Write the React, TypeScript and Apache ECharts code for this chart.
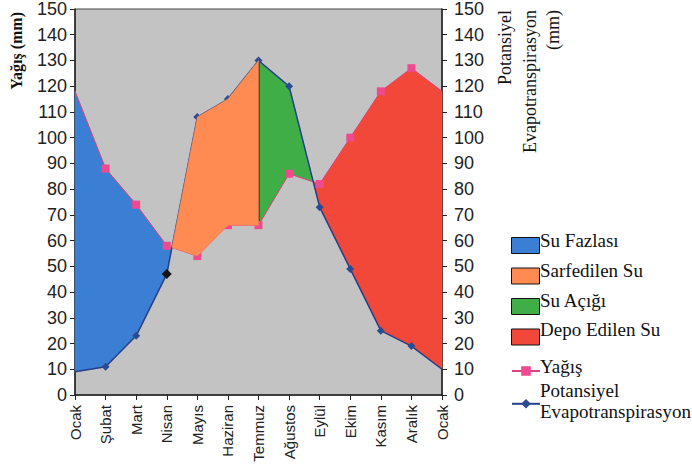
import React, { useEffect, useRef } from "react";
import * as echarts from "echarts";

const months = ["Ocak", "Şubat", "Mart", "Nisan", "Mayıs", "Haziran", "Temmuz", "Ağustos", "Eylül", "Ekim", "Kasım", "Aralık", "Ocak"];
const precipitation = [118, 88, 74, 58, 54, 66, 66, 86, 82, 100, 118, 127, 118];
const pet = [9, 11, 23, 47, 108, 115, 130, 120, 73, 49, 25, 19, 10];
const yTicks = [0, 150, 10];

const regionNames = ["Su Fazlası", "Sarfedilen Su", "Su Açığı", "Depo Edilen Su"];
const regionColors = ["#3b7fd4", "#ff8a52", "#3fae47", "#f2483a"];
const lineNames = ["Yağış", "Potansiyel Evapotranspirasyon"];
const rightAxisName = ["Potansiyel", "Evapotranspirasyon", "(mm)"];

function valueAt(arr: number[], x: number) {
  const i = Math.min(Math.floor(x), arr.length - 2);
  const t = x - i;
  return arr[i] + (arr[i + 1] - arr[i]) * t;
}
function crossing(a: number[], b: number[], i: number) {
  const d0 = a[i] - b[i];
  const d1 = a[i + 1] - b[i + 1];
  return i + d0 / (d0 - d1);
}

export default function App() {
  const ref = useRef<HTMLDivElement>(null);
  useEffect(() => {
    if (!ref.current) return;
    const chart = echarts.init(ref.current, null, { renderer: "svg" });
    const c1 = crossing(precipitation, pet, 3);
    const c2 = crossing(precipitation, pet, 7);
    const regions = [
      { upper: precipitation, lower: pet, from: 0, to: c1, edge: false, z: 1 },
      { upper: pet, lower: precipitation, from: c1, to: 6, edge: false, z: 5 },
      { upper: pet, lower: precipitation, from: 6, to: c2, edge: true, z: 1 },
      { upper: precipitation, lower: pet, from: c2, to: 12, edge: false, z: 1 },
    ];
    const regionSeries = regions.map((r, k) => ({
      type: "custom",
      name: regionNames[k],
      silent: true,
      z: r.z,
      itemStyle: { color: regionColors[k] },
      data: [[r.from, 0]],
      renderItem: (params: any, api: any) => {
        const xs: number[] = [r.from];
        for (let i = Math.ceil(r.from + 1e-6); i < r.to - 1e-6; i++) xs.push(i);
        xs.push(r.to);
        const pts: number[][] = [];
        xs.forEach((x) => pts.push(api.coord([x, valueAt(r.upper, x)])));
        xs.slice().reverse().forEach((x) => pts.push(api.coord([x, valueAt(r.lower, x)])));
        const children: any[] = [
          { type: "polygon", shape: { points: pts }, style: { fill: regionColors[k], stroke: regionColors[k], lineWidth: 0.5 } },
        ];
        if (r.edge) {
          const a = api.coord([r.from, valueAt(r.upper, r.from)]);
          const b = api.coord([r.from, valueAt(r.lower, r.from)]);
          children.push({ type: "line", shape: { x1: a[0], y1: a[1], x2: b[0], y2: b[1] }, style: { stroke: "#1a1a1a", lineWidth: 2 } });
        }
        return { type: "group", children };
      },
    }));

    const pData = precipitation.map((v, i) =>
      i === 0 || i === precipitation.length - 1 ? { value: [i, v], symbol: "none" } : [i, v]
    );
    const eData = pet.map((v, i) =>
      i === 0 || i === pet.length - 1
        ? { value: [i, v], symbol: "none" }
        : i === 3
        ? { value: [i, v], itemStyle: { color: "#151515" }, symbolSize: 10 }
        : [i, v]
    );

    const serif = "Liberation Serif";
    const sans = "Liberation Sans, Arial, sans-serif";
    const txt = (text: string, x: number, y: number, size = 19) => ({
      type: "text",
      x,
      y,
      style: { text, fontFamily: serif, fontSize: size, fill: "#111", textAlign: "left", textVerticalAlign: "middle" },
    });
    const vtxt = (text: string, x: number, y: number, size = 18, weight = "normal") => ({
      type: "text",
      x,
      y,
      rotation: Math.PI / 2,
      style: { text, fontFamily: serif, fontSize: size, fontWeight: weight, fill: "#111", textAlign: "right", textVerticalAlign: "middle" },
    });
    const regionY = [240, 270, 300, 329];
    const rightNameX = [505, 530, 553];

    chart.setOption({
      animation: false,
      backgroundColor: "#ffffff",
      grid: { left: 75, right: 250, top: 9, bottom: 79, show: true, backgroundColor: "#c3c3c3", borderColor: "#444", borderWidth: 1 },
      xAxis: {
        type: "value",
        min: 0,
        max: months.length - 1,
        interval: 1,
        splitLine: { show: false },
        axisLine: { lineStyle: { color: "#222", width: 1.5 } },
        axisTick: { length: 5, lineStyle: { color: "#222" } },
        axisLabel: {
          rotate: 90,
          margin: 10,
          color: "#222",
          fontFamily: sans,
          fontSize: 15,
          formatter: (v: number) => months[Math.round(v)],
        },
      },
      yAxis: [
        {
          type: "value",
          min: yTicks[0],
          max: yTicks[1],
          interval: yTicks[2],
          position: "left",
          splitLine: { show: false },
          axisLine: { show: true, lineStyle: { color: "#222", width: 1.5 } },
          axisTick: { show: true, length: 5, lineStyle: { color: "#222" } },
          axisLabel: { color: "#222", fontFamily: sans, fontSize: 18, margin: 8 },
        },
        {
          type: "value",
          min: yTicks[0],
          max: yTicks[1],
          interval: yTicks[2],
          position: "right",
          splitLine: { show: false },
          axisLine: { show: true, lineStyle: { color: "#222", width: 1.5 } },
          axisTick: { show: true, length: 5, lineStyle: { color: "#222" } },
          axisLabel: { color: "#222", fontFamily: sans, fontSize: 18, margin: 12 },
        },
      ],
      legend: [
        {
          orient: "vertical",
          left: 506,
          top: 232,
          itemWidth: 28,
          itemHeight: 16,
          itemGap: 13.5,
          formatter: () => "",
          data: regionNames.map((n, k) => ({
            name: n,
            icon: "rect",
            itemStyle: { color: regionColors[k], borderColor: "#111", borderWidth: 1 },
          })),
        },
        {
          orient: "vertical",
          left: 506,
          top: 360,
          itemWidth: 28,
          itemHeight: 12,
          itemGap: 22,
          formatter: () => "",
          data: lineNames,
        },
      ],
      graphic: [
        vtxt("Yağış (mm)", 16, 12, 16, "bold"),
        ...rightAxisName.map((t, k) => vtxt(t, rightNameX[k], 10)),
        ...regionNames.map((n, k) => txt(n, 540, regionY[k])),
        txt(lineNames[0], 540, 366),
        ...lineNames[1].split(" ").map((w, k) => txt(w, 540, 390 + k * 21)),
      ],
      series: [
        ...regionSeries,
        {
          type: "line",
          name: lineNames[0],
          z: 3,
          data: pData,
          symbol: "rect",
          symbolSize: 8,
          lineStyle: { color: "#e0407f", width: 1 },
          itemStyle: { color: "#f04a8e" },
        },
        {
          type: "line",
          name: lineNames[1],
          z: 3,
          data: eData,
          symbol: "diamond",
          symbolSize: 8,
          lineStyle: { color: "#25408a", width: 1.5 },
          itemStyle: { color: "#2a4a94" },
        },
      ],
    });
    return () => chart.dispose();
  }, []);
  return <div ref={ref} style={{ position: "fixed", left: 0, top: 0, width: 692, height: 474 }} />;
}
